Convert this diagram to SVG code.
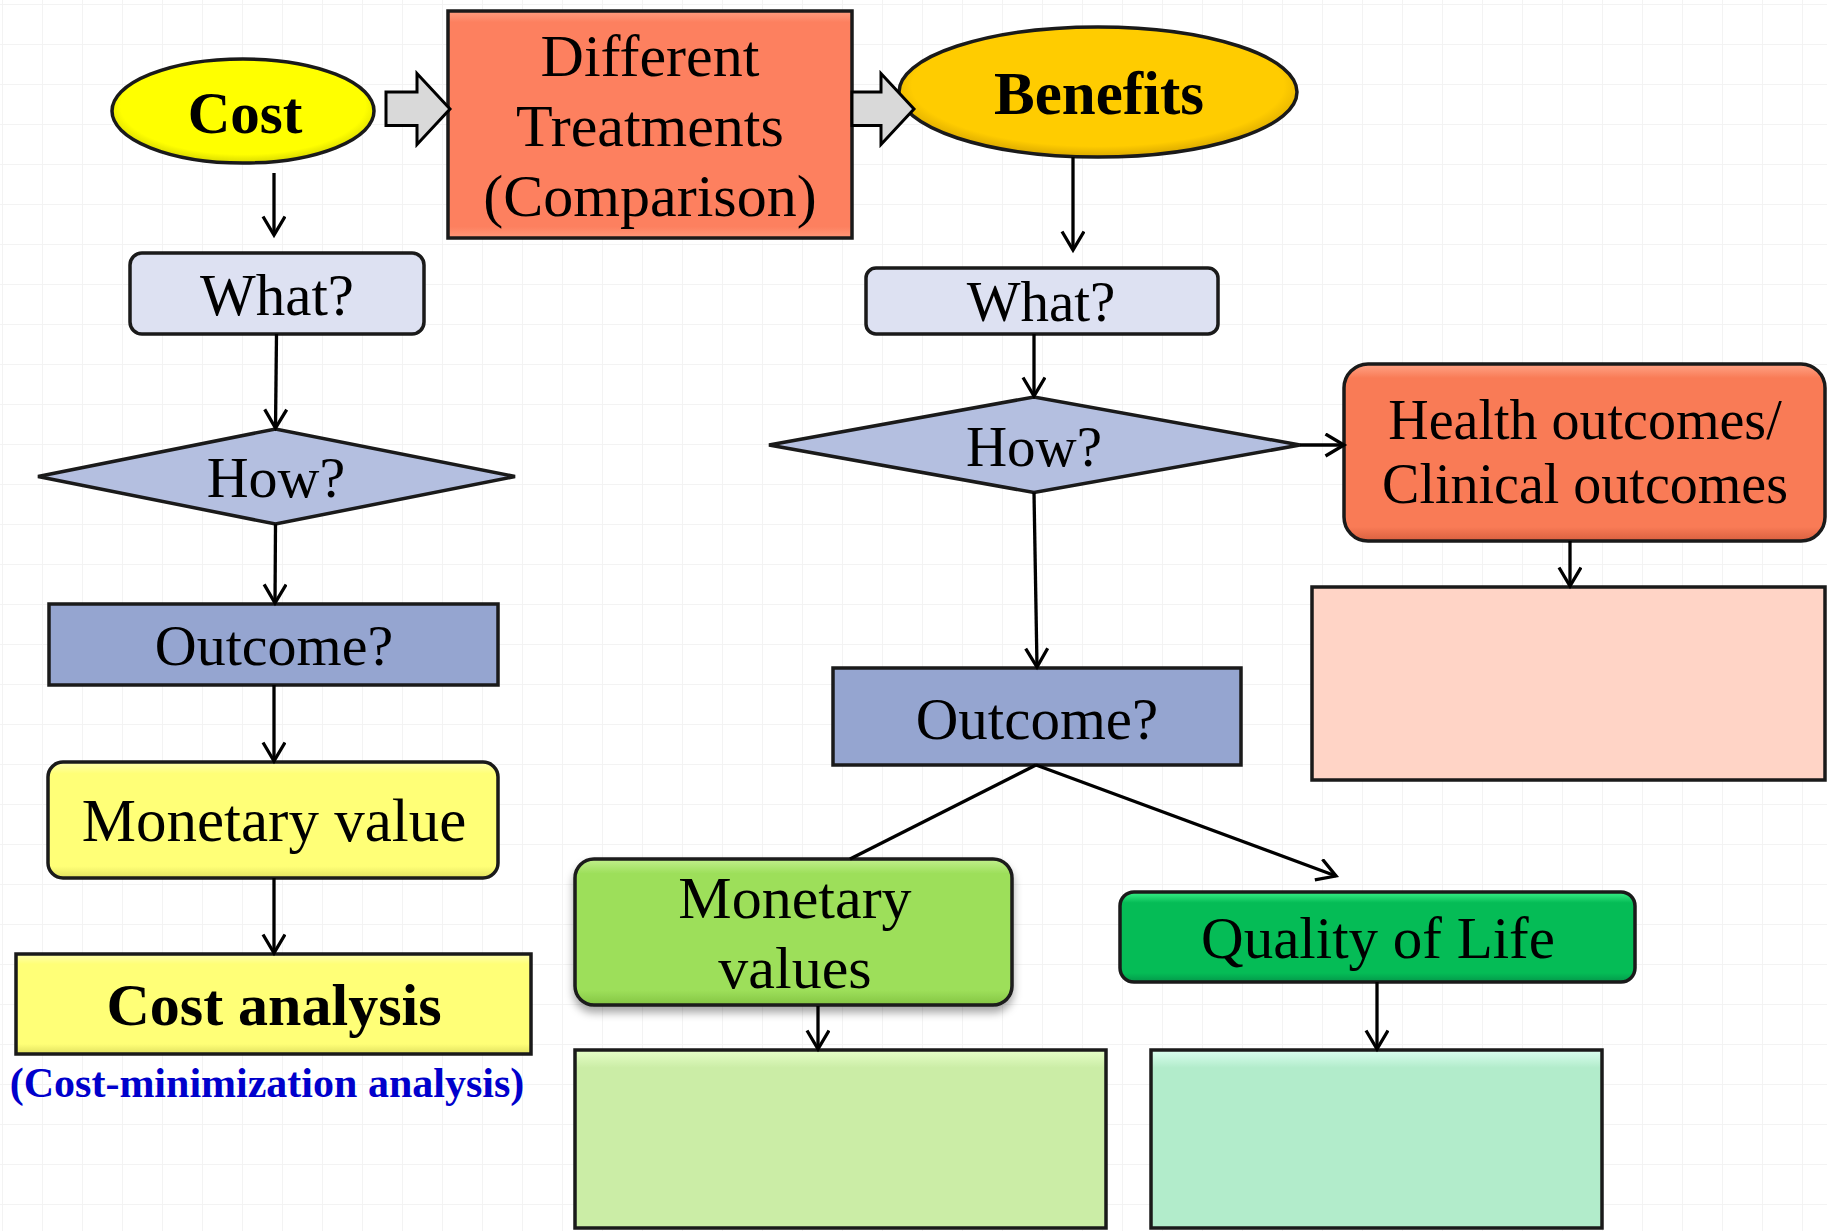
<svg xmlns="http://www.w3.org/2000/svg" width="1827" height="1231" viewBox="0 0 1827 1231">
<defs>
<style>
.t{font-family:"Liberation Serif","Times New Roman",serif;fill:#000;text-anchor:middle}
.b{font-weight:bold}
.n{stroke:#1a1a1a;stroke-width:3.5}
.c{fill:none;stroke:#000;stroke-width:3.3}
.blk{fill:#D9D9D9;stroke:#000;stroke-width:3;stroke-linejoin:miter}
</style>
<pattern id="grid" patternUnits="userSpaceOnUse" x="2" y="4" width="40" height="40">
<path d="M0,0 V40 M0,0 H40" stroke="#F3F3F3" stroke-width="2" fill="none"/>
</pattern>
<marker id="arr" markerWidth="26" markerHeight="26" refX="20" refY="12" orient="auto" markerUnits="userSpaceOnUse">
<path d="M1.5,1 L20,12 L1.5,23" fill="none" stroke="#000" stroke-width="3.3"/>
</marker>
<radialGradient id="gCost" cx="50%" cy="45%" r="55%">
<stop offset="0" stop-color="#FFFF00"/><stop offset="0.85" stop-color="#FFFF00"/><stop offset="1" stop-color="#D8D800"/>
</radialGradient>
<radialGradient id="gBen" cx="50%" cy="45%" r="55%">
<stop offset="0" stop-color="#FFCC00"/><stop offset="0.85" stop-color="#FFCC00"/><stop offset="1" stop-color="#D9A800"/>
</radialGradient>
<linearGradient id="gOr" x1="0" y1="0" x2="0" y2="1">
<stop offset="0" stop-color="#FF9E80"/><stop offset="0.05" stop-color="#FD805F"/><stop offset="0.95" stop-color="#FD805F"/><stop offset="1" stop-color="#FF9778"/>
</linearGradient>
<linearGradient id="gHe" x1="0" y1="0" x2="0" y2="1">
<stop offset="0" stop-color="#FFA487"/><stop offset="0.08" stop-color="#F97B56"/><stop offset="0.92" stop-color="#F97B56"/><stop offset="1" stop-color="#D9603F"/>
</linearGradient>
<linearGradient id="gYel" x1="0" y1="0" x2="0" y2="1">
<stop offset="0" stop-color="#FFFFB0"/><stop offset="0.1" stop-color="#FFFF77"/><stop offset="0.9" stop-color="#FFFF77"/><stop offset="1" stop-color="#E0E060"/>
</linearGradient>
<linearGradient id="gGr" x1="0" y1="0" x2="0" y2="1">
<stop offset="0" stop-color="#C2F08E"/><stop offset="0.1" stop-color="#9DDF5A"/><stop offset="0.9" stop-color="#9DDF5A"/><stop offset="1" stop-color="#84C544"/>
</linearGradient>
<linearGradient id="gQ" x1="0" y1="0" x2="0" y2="1">
<stop offset="0" stop-color="#3AF088"/><stop offset="0.12" stop-color="#05BC56"/><stop offset="0.9" stop-color="#05BC56"/><stop offset="1" stop-color="#03984A"/>
</linearGradient>
<linearGradient id="gLg" x1="0" y1="0" x2="0" y2="1">
<stop offset="0" stop-color="#E6FFC8"/><stop offset="0.1" stop-color="#CBEDA6"/><stop offset="1" stop-color="#CBEDA6"/>
</linearGradient>
<linearGradient id="gMint" x1="0" y1="0" x2="0" y2="1">
<stop offset="0" stop-color="#DBFFF0"/><stop offset="0.1" stop-color="#B2ECCB"/><stop offset="1" stop-color="#B2ECCB"/>
</linearGradient>
<filter id="sh" x="-10%" y="-10%" width="120%" height="130%">
<feDropShadow dx="0" dy="6" stdDeviation="4" flood-color="#000" flood-opacity="0.35"/>
</filter>
</defs>
<rect width="1827" height="1231" fill="#FFFFFF"/>
<rect width="1827" height="1231" fill="url(#grid)"/>

<g id="cost">
<ellipse class="n" cx="243" cy="111" rx="131" ry="52" fill="url(#gCost)"/>
<text class="t b" x="245" y="133" font-size="59">Cost</text>
</g>
<g id="treatments">
<rect class="n" x="448" y="11" width="404" height="227" fill="url(#gOr)"/>
<text class="t" x="650" y="76" font-size="60">Different</text>
<text class="t" x="650" y="146" font-size="60">Treatments</text>
<text class="t" x="650" y="216" font-size="60">(Comparison)</text>
</g>
<g id="benefits">
<ellipse class="n" cx="1098" cy="92" rx="199" ry="65" fill="url(#gBen)"/>
<text class="t b" x="1099" y="114" font-size="61">Benefits</text>
</g>

<g id="what-left">
<rect class="n" x="130" y="253" width="294" height="81" rx="12" fill="#DDE1F2"/>
<text class="t" x="277" y="315" font-size="59">What?</text>
</g>
<g id="how-left">
<polygon class="n" points="38,476.5 275.5,429 515,476.5 275.5,524" fill="#B4BFE0"/>
<text class="t" x="276" y="497" font-size="58">How?</text>
</g>
<g id="outcome-left">
<rect class="n" x="49" y="604" width="449" height="81" fill="#95A5D0"/>
<text class="t" x="274" y="665" font-size="58">Outcome?</text>
</g>
<g id="monetary-value">
<rect class="n" x="48" y="762" width="450" height="116" rx="15" fill="url(#gYel)"/>
<text class="t" x="274" y="841" font-size="61">Monetary value</text>
</g>
<g id="cost-analysis">
<rect class="n" x="16" y="954" width="515" height="100" fill="url(#gYel)"/>
<text class="t b" x="274" y="1025" font-size="60">Cost analysis</text>
<text class="t b" x="267" y="1097" font-size="42" style="fill:#0000CC">(Cost-minimization analysis)</text>
</g>

<g id="what-right">
<rect class="n" x="866" y="268" width="352" height="66" rx="10" fill="#DDE1F2"/>
<text class="t" x="1041" y="321" font-size="57">What?</text>
</g>
<g id="how-right">
<polygon class="n" points="769,445 1034,397 1300,445 1034,492.5" fill="#B4BFE0"/>
<text class="t" x="1034" y="466" font-size="57">How?</text>
</g>
<g id="health">
<rect class="n" x="1344" y="364" width="481" height="177" rx="24" fill="url(#gHe)"/>
<text class="t" x="1585" y="439" font-size="56">Health outcomes/</text>
<text class="t" x="1585" y="503" font-size="56">Clinical outcomes</text>
</g>
<g id="health-result">
<rect class="n" x="1312" y="587" width="513" height="193" fill="#FFD4C6"/>
</g>
<g id="outcome-right">
<rect class="n" x="833" y="668" width="408" height="97" fill="#95A5D0"/>
<text class="t" x="1037" y="739" font-size="59">Outcome?</text>
</g>
<g id="monetary-values">
<rect class="n" x="575" y="859" width="437" height="146" rx="19" fill="url(#gGr)" filter="url(#sh)"/>
<text class="t" x="795" y="918" font-size="60">Monetary</text>
<text class="t" x="795" y="988" font-size="60">values</text>
</g>
<g id="monetary-result">
<rect class="n" x="575" y="1050" width="531" height="178" fill="url(#gLg)"/>
</g>
<g id="quality">
<rect class="n" x="1120" y="892" width="515" height="90" rx="14" fill="url(#gQ)"/>
<text class="t" x="1378" y="958" font-size="59">Quality of Life</text>
</g>
<g id="quality-result">
<rect class="n" x="1151" y="1050" width="451" height="178" fill="url(#gMint)"/>
</g>

<g id="connectors">
<polygon class="blk" points="386,92 417,92 417,73.5 450,109 417,144.5 417,125.5 386,125.5"/>
<polygon class="blk" points="852,92 881,92 881,73.5 914,109 881,144.5 881,125.5 852,125.5"/>
<line class="c" x1="274" y1="173" x2="274" y2="235" marker-end="url(#arr)"/>
<line class="c" x1="276.5" y1="334" x2="275.5" y2="428" marker-end="url(#arr)"/>
<line class="c" x1="275.5" y1="524" x2="275" y2="603" marker-end="url(#arr)"/>
<line class="c" x1="274" y1="685" x2="274" y2="761" marker-end="url(#arr)"/>
<line class="c" x1="274" y1="878" x2="274" y2="953" marker-end="url(#arr)"/>
<line class="c" x1="1073" y1="157" x2="1073" y2="250" marker-end="url(#arr)"/>
<line class="c" x1="1034" y1="334" x2="1034" y2="396" marker-end="url(#arr)"/>
<line class="c" x1="1300" y1="445" x2="1344" y2="445" marker-end="url(#arr)"/>
<line class="c" x1="1570" y1="541" x2="1570" y2="586" marker-end="url(#arr)"/>
<line class="c" x1="1034" y1="492.5" x2="1037" y2="667" marker-end="url(#arr)"/>
<line class="c" x1="1036" y1="765" x2="850" y2="859"/>
<line class="c" x1="1036" y1="765" x2="1336" y2="876" marker-end="url(#arr)"/>
<line class="c" x1="818" y1="1006" x2="818" y2="1049" marker-end="url(#arr)"/>
<line class="c" x1="1377" y1="982" x2="1377" y2="1049" marker-end="url(#arr)"/>
</g>
</svg>
